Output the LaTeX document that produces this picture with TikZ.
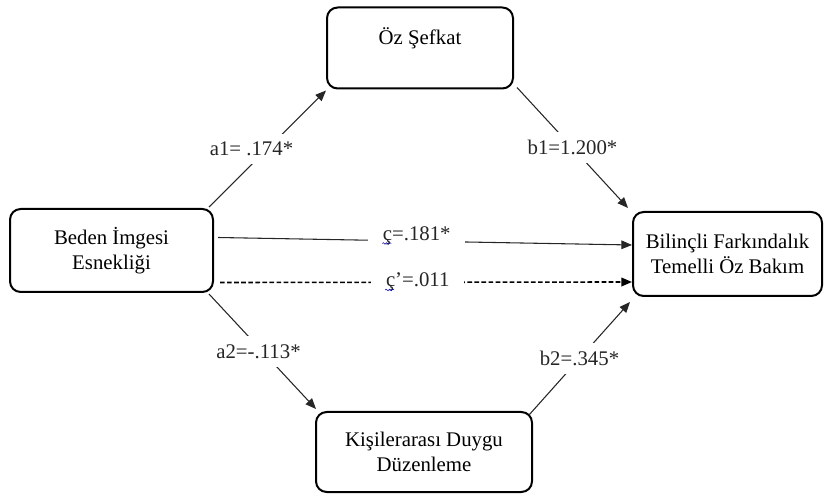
\documentclass[tikz,border=0pt]{standalone}
\usepackage{fontspec}
\setmainfont{Liberation Serif}
\usetikzlibrary{arrows.meta,calc,decorations.pathmorphing}
\begin{document}
\begin{tikzpicture}[x=0.75pt,y=-0.75pt,
  font=\fontsize{15.6}{18.75}\selectfont,
  box/.style={draw=black,line width=1.5pt,rounded corners=8pt,inner sep=0pt},
  conn/.style={draw=black!85,line width=0.8pt,-{Triangle[length=8pt,width=6.5pt]}},
  dconn/.style={draw=black,line width=1.2pt,dash pattern=on 3.5pt off 1.8pt,-{Triangle[length=8pt,width=6.5pt]}},
  lab/.style={fill=white,inner xsep=4pt,inner ysep=6pt,text=black!85},
  wavy/.style={draw=blue!70!black,line width=0.4pt,decorate,decoration={snake,amplitude=0.6pt,segment length=2.5pt}}]
\useasboundingbox (0,0) rectangle (824,498);
% boxes
\node[box,minimum width=186*0.75pt,minimum height=81*0.75pt] (oz) at (420,48) {};
\node[anchor=center] (oztext) at (420,38) {Öz Şefkat};
\node[box,minimum width=203*0.75pt,minimum height=83*0.75pt,align=center] (beden) at (111.5,250.5) {Beden İmgesi\\Esnekliği};
\node[box,minimum width=189*0.75pt,minimum height=84*0.75pt,align=center] (bil) at (727.5,254) {Bilinçli Farkındalık\\Temelli Öz Bakım};
\node[box,minimum width=216*0.75pt,minimum height=80*0.75pt,align=center] (kisi) at (424,452) {Kişilerarası Duygu\\Düzenleme};
% connectors
\draw[conn] ($(beden.north east)+(-5,-1)$) -- node[lab,pos=0.5,xshift=-12pt] (a1) {a1= .174*} ($(oz.south west)+(0,1)$);
\draw[conn] ($(oz.south east)+(3,-2)$) -- node[lab,pos=0.5] (b1) {b1=1.200*} ($(bil.north west)+(-4,-3)$);
\draw[conn] ($(beden.south east)+(-5,1)$) -- node[lab,pos=0.5,xshift=-3pt] (a2) {a2=-.113*} ($(kisi.north west)+(1,-2)$);
\draw[conn] ($(kisi.north east)+(-4,4)$) -- node[lab,pos=0.5] (b2) {b2=.345*} ($(bil.south west)+(-2,5)$);
\draw[conn] ($(beden.east)+(4,-13)$) -- node[lab,pos=0.48,yshift=4pt,inner xsep=11pt,inner ysep=2pt] (c) {ç=.181*} ($(bil.west)+(0,-9)$);
\draw[dconn] ($(beden.east)+(6,32)$) -- node[lab,pos=0.48,inner xsep=11pt,inner ysep=2pt] (cp) {ç’=.011} ($(bil.west)+(0,28)$);
% spell-check underlines
\draw[wavy] ($(c.base west)+(11pt,3)$) -- ++(9,0);
\draw[wavy] ($(cp.base west)+(11pt,3)$) -- ++(9,0);
\end{tikzpicture}
\end{document}
